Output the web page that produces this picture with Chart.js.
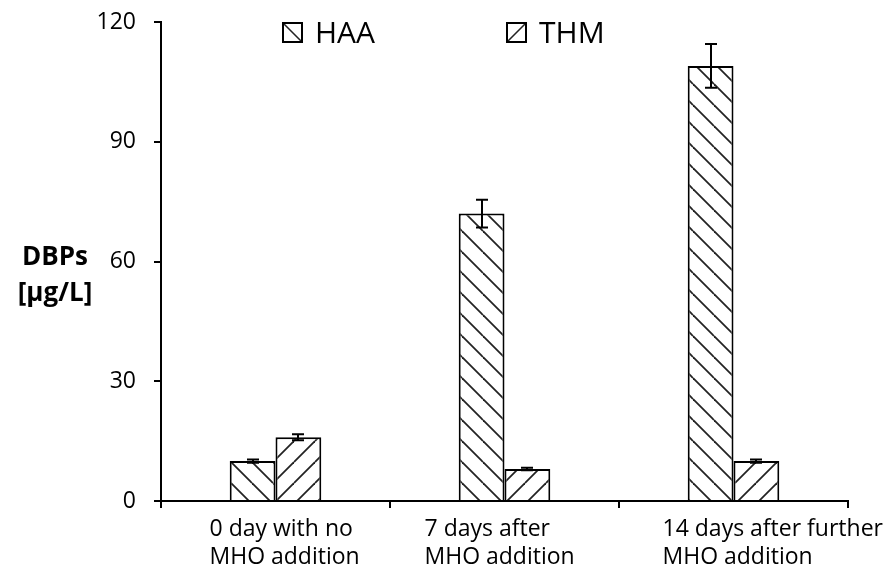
<!DOCTYPE html>
<html><head><meta charset="utf-8">
<script src="https://cdn.jsdelivr.net/npm/chart.js@4"></script>
<style>html,body{margin:0;padding:0;background:#fff}#wrap{width:891px;height:577px}</style>
</head><body><div id="wrap"><canvas id="c" width="891" height="577"></canvas></div>
<script>
// ---- data ----
const categories = [["0 day with no","MHO addition"],["7 days after","MHO addition"],["14 days after further","MHO addition"]];
const seriesNames = ["HAA","THM"];
const haaValues = [10, 72, 109];
const thmValues = [16, 8, 10];
const haaErrors = [0.4, 3.5, 5.5];
const thmErrors = [0.75, 0.3, 0.4];
const yTicks = [0, 30, 60, 90, 120];
const yTitle = ["DBPs","[µg/L]"];

const FONT = "'Open Sans', sans-serif";
const canvas = document.getElementById('c');
const ctx = canvas.getContext('2d');

function hatch(dir){
  const s = 21;
  const c = document.createElement('canvas'); c.width = s; c.height = s;
  const g = c.getContext('2d');
  g.fillStyle = '#fff'; g.fillRect(0,0,s,s);
  g.strokeStyle = '#222'; g.lineWidth = 1.8;
  for (let k = -1; k <= 1; k++) {
    g.beginPath();
    if (dir === 'back') { g.moveTo(0, k*s); g.lineTo(s, k*s + s); }
    else { g.moveTo(0, k*s + s); g.lineTo(s, k*s); }
    g.stroke();
  }
  return ctx.createPattern(c, 'repeat');
}
const patterns = [hatch('back'), hatch('fwd')];
const errors = [haaErrors, thmErrors];

const extras = {
  id: 'extras',
  afterDatasetsDraw(chart) {
    const c = chart.ctx, y = chart.scales.y, x = chart.scales.x;
    c.save();
    // error bars
    c.strokeStyle = '#000'; c.lineWidth = 2;
    chart.data.datasets.forEach((ds, di) => {
      const meta = chart.getDatasetMeta(di);
      meta.data.forEach((el, i) => {
        const v = ds.data[i], e = errors[di][i];
        const yt = y.getPixelForValue(v + e), yb = y.getPixelForValue(v - e);
        const cx = Math.round(el.x);
        c.beginPath();
        c.moveTo(cx, yt); c.lineTo(cx, yb);
        c.moveTo(cx - 6, yt); c.lineTo(cx + 6, yt);
        c.moveTo(cx - 6, yb); c.lineTo(cx + 6, yb);
        c.stroke();
      });
    });
    // legend
    const legendX = [283, 507];
    c.font = '30px ' + FONT; c.fillStyle = '#000'; c.textBaseline = 'alphabetic'; c.textAlign = 'left';
    seriesNames.forEach((n, i) => {
      const bx = legendX[i], by = 23, bs = 19;
      c.fillStyle = '#fff'; c.fillRect(bx, by, bs, bs);
      c.strokeStyle = '#222'; c.lineWidth = 1.6;
      c.beginPath();
      if (i === 0) { c.moveTo(bx, by); c.lineTo(bx + bs, by + bs); }
      else { c.moveTo(bx, by + bs); c.lineTo(bx + bs, by); }
      c.stroke();
      c.strokeStyle = '#000'; c.lineWidth = 2;
      c.strokeRect(bx, by, bs, bs);
      c.fillStyle = '#000';
      c.fillText(n, bx + 32, 43);
    });
    // y title
    c.font = 'bold 26px ' + FONT; c.textAlign = 'center';
    c.fillText(yTitle[0], 55, 265);
    c.fillText(yTitle[1], 55, 301);
    // x labels (left-aligned blocks)
    const offs = [-66, -80, -71];
    c.font = '23px ' + FONT; c.textAlign = 'left';
    categories.forEach((lines, i) => {
      const px = x.getPixelForValue(i) + offs[i];
      lines.forEach((t, j) => c.fillText(t, px, 536 + j * 28));
    });
    c.restore();
  }
};

new Chart(ctx, {
  type: 'bar',
  data: {
    labels: categories.map(l => l.join(' ')),
    datasets: [
      { label: seriesNames[0], data: haaValues, backgroundColor: patterns[0], borderColor: '#000', borderWidth: 2 },
      { label: seriesNames[1], data: thmValues, backgroundColor: patterns[1], borderColor: '#000', borderWidth: 2 }
    ]
  },
  options: {
    responsive: false, animation: false, devicePixelRatio: 1,
    layout: { padding: { left: 0, right: 43, top: 22, bottom: 0 } },
    plugins: { legend: { display: false }, tooltip: { enabled: false } },
    datasets: { bar: { categoryPercentage: 0.4, barPercentage: 1 } },
    scales: {
      x: {
        offset: true,
        grid: { offset: true, drawOnChartArea: false, drawTicks: true, tickLength: 7, color: '#000', lineWidth: 2 },
        border: { color: '#000', width: 2 },
        ticks: { display: false },
        afterFit(s) { s.height = 76; s.paddingLeft = 0; s.paddingRight = 0; }
      },
      y: {
        min: 0, max: 120,
        afterBuildTicks(s) { s.ticks = yTicks.map(v => ({ value: v })); },
        grid: { drawOnChartArea: false, drawTicks: true, tickLength: 7, color: '#000', lineWidth: 2 },
        border: { color: '#000', width: 2 },
        ticks: { padding: 18, color: '#000', font: { family: FONT, size: 23 } },
        afterFit(s) { s.width = 161; s.paddingTop = 0; s.paddingBottom = 0; }
      }
    }
  },
  plugins: [extras]
});
</script>
</body></html>
